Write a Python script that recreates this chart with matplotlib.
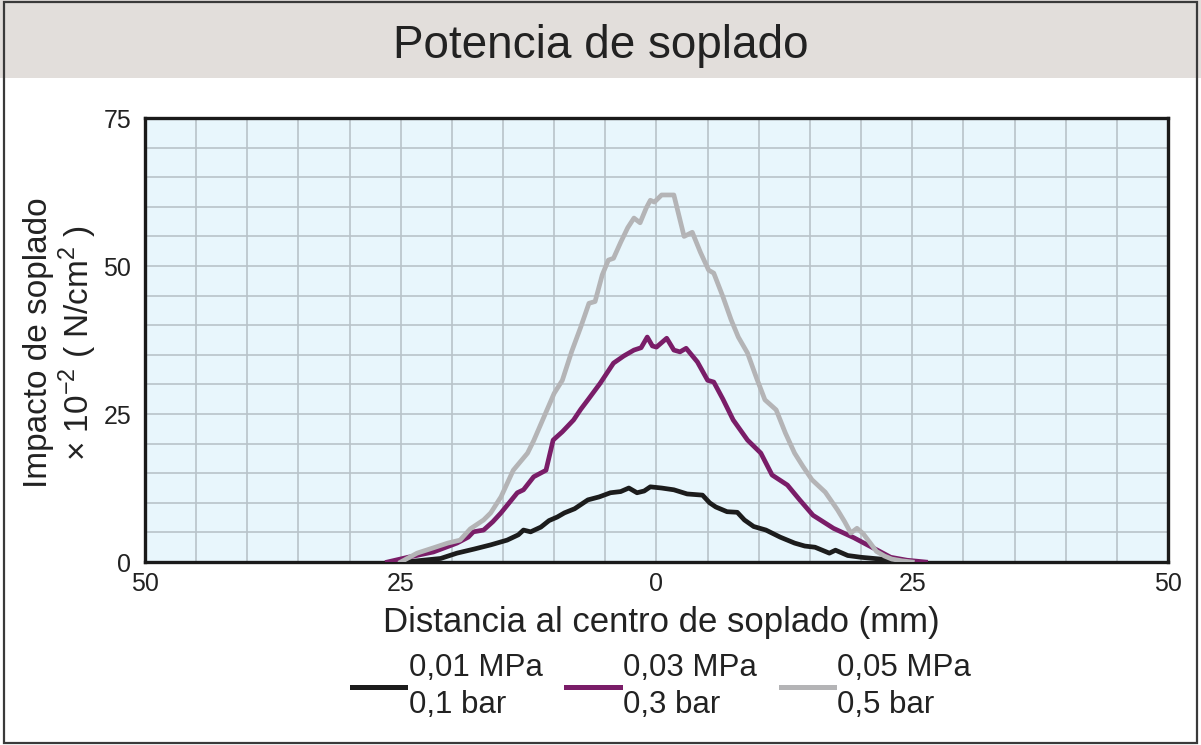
import matplotlib
matplotlib.use("Agg")
import matplotlib.pyplot as plt
from matplotlib.patches import Rectangle
from matplotlib.ticker import FuncFormatter

plt.rcParams['font.family'] = ['Liberation Sans', 'DejaVu Sans']

# datos (mm, impacto x10^-2 N/cm2)
x_01 = [-24.5, -23.4, -21.1, -19.5, -17.8, -16.2, -14.6, -13.5, -13.0, -12.3, -11.3, -10.5,
        -9.7, -9.0, -8.0, -6.7, -5.6, -4.5, -3.5, -2.7, -1.9, -1.2, -0.6, 0.5, 1.7, 3.0, 4.5,
        5.2, 5.8, 6.9, 7.9, 8.6, 9.5, 10.7, 12.1, 13.5, 14.5, 15.5, 16.9, 17.5, 18.7, 20.0,
        21.9, 23.5, 24.5]
y_01 = [0, 0.2, 0.6, 1.5, 2.2, 2.9, 3.7, 4.6, 5.4, 5.1, 5.9, 7.0,
        7.6, 8.3, 9.0, 10.5, 11.0, 11.7, 11.9, 12.5, 11.7, 12.0, 12.7, 12.5, 12.2, 11.5, 11.3,
        10.0, 9.3, 8.5, 8.4, 7.1, 6.0, 5.4, 4.2, 3.2, 2.7, 2.5, 1.5, 2.0, 1.1, 0.8,
        0.5, 0.2, 0]

x_03 = [-26.3, -24.3, -21.8, -19.5, -18.4, -17.9, -16.9, -16.0, -15.2, -13.6, -13.0, -12.0,
        -10.8, -10.1, -9.2, -8.1, -7.4, -6.7, -5.5, -4.2, -3.2, -2.2, -1.5, -0.9, -0.4, 0.0,
        1.0, 1.7, 2.3, 2.9, 4.0, 5.0, 5.6, 6.5, 7.5, 8.9, 10.2, 11.3, 12.8, 14.0, 15.3, 17.3,
        19.3, 20.5, 21.6, 22.9, 24.5, 26.3]
y_03 = [0, 0.8, 1.7, 3.2, 4.2, 5.1, 5.4, 6.8, 8.3, 11.7, 12.2, 14.4,
        15.5, 20.6, 22.0, 24.0, 25.8, 27.4, 30.2, 33.6, 34.8, 35.8, 36.2, 38.0, 36.5, 36.3,
        37.8, 35.8, 35.5, 36.1, 33.8, 30.7, 30.4, 27.5, 24.0, 20.6, 18.4, 14.7, 13.0, 10.5, 7.9, 5.7,
        4.1, 3.0, 2.0, 0.8, 0.3, 0]

x_05 = [-25.0, -23.4, -21.8, -20.4, -19.2, -18.2, -16.9, -16.2, -15.2, -14.0, -12.6, -12.0,
        -10.7, -10.0, -9.2, -8.3, -7.4, -6.6, -6.0, -5.3, -4.7, -4.2, -3.5, -2.8, -2.2, -1.6,
        -1.0, -0.6, -0.2, 0.5, 1.7, 2.2, 2.7, 3.5, 4.3, 5.1, 5.6, 6.5, 7.3, 8.0, 8.9, 9.8,
        10.6, 11.7, 12.6, 13.5, 14.3, 15.2, 16.5, 17.7, 18.4, 19.0, 19.6, 20.2, 20.9, 21.5,
        22.3, 23.0, 24.0, 25.0]
y_05 = [0, 1.5, 2.4, 3.2, 3.7, 5.6, 7.1, 8.3, 11.0, 15.5, 18.4, 20.5,
        25.7, 28.5, 30.7, 35.5, 39.7, 43.7, 44.0, 48.5, 51.0, 51.3, 54.0, 56.5, 58.1, 57.3,
        59.8, 61.1, 60.8, 62.0, 62.0, 58.5, 55.0, 55.7, 52.3, 49.3, 48.8, 44.8, 40.9, 38.0, 35.3, 31.0,
        27.4, 25.7, 21.8, 18.4, 16.2, 13.9, 11.8, 8.8, 6.8, 4.9, 5.7, 4.8, 3.2, 1.8,
        1.0, 0.5, 0.2, 0]

etiquetas = ['0,01 MPa\n0,1 bar', '0,03 MPa\n0,3 bar', '0,05 MPa\n0,5 bar']
colores = ['#1c1c1c', '#7a1d68', '#b4b4b6']

fig = plt.figure(figsize=(12.01, 7.45), dpi=100)

# banda del titulo y marco
fig.patches.append(Rectangle((0, 0.895), 1, 0.105, transform=fig.transFigure,
                             facecolor='#e2dedb', edgecolor='none', zorder=0))
fig.patches.append(Rectangle((0.003, 0.003), 0.994, 0.994, transform=fig.transFigure,
                             facecolor='none', edgecolor='#3a3a3a', lw=1.6, zorder=5))
fig.text(0.5, 0.938, 'Potencia de soplado', ha='center', va='center',
         fontsize=33, color='#222222')

ax = fig.add_axes([0.1207, 0.2456, 0.8518, 0.596])
ax.set_facecolor('#e8f6fc')

for xs, ys, c, lab in zip([x_01, x_03, x_05], [y_01, y_03, y_05], colores, etiquetas):
    ax.plot(xs, ys, color=c, lw=3.4, label=lab, solid_joinstyle='round', zorder=3)

ax.set_xlim(-50, 50)
ax.set_ylim(0, 75)
ax.set_xticks([-50, -25, 0, 25, 50])
ax.set_yticks([0, 25, 50, 75])
ax.set_xticks(range(-50, 51, 5), minor=True)
ax.set_yticks(range(0, 76, 5), minor=True)
ax.xaxis.set_major_formatter(FuncFormatter(lambda v, p: '%d' % abs(v)))
ax.grid(True, which='both', color='#b8c3c9', lw=1.2)
ax.set_axisbelow(True)
ax.tick_params(which='both', length=0)
ax.tick_params(axis='y', labelsize=18, pad=10, labelcolor='#222222')
ax.tick_params(axis='x', labelsize=18, pad=7, labelcolor='#222222')
for s in ax.spines.values():
    s.set_linewidth(2.4)
    s.set_color('#1a1a1a')

fig.text(0.551, 0.165, 'Distancia al centro de soplado (mm)', ha='center', va='center',
         fontsize=25, color='#222222')
fig.text(0.051, 0.54,
         'Impacto de soplado\n× 10$^{\\mathregular{-2}}$ ( N/cm$^{\\mathregular{2}}$ )',
         rotation=90, ha='center', va='center', multialignment='center',
         fontsize=24, linespacing=1.1, color='#222222')

leg = fig.legend(loc='center', bbox_to_anchor=(0.551, 0.079), ncol=3, frameon=False,
                 fontsize=22.5, handlelength=1.7, handletextpad=0.12, columnspacing=0.75)
for t in leg.get_texts():
    t.set_linespacing(1.3)
    t.set_color('#222222')
for h in leg.get_lines():
    h.set_linewidth(3.6)

fig.savefig('out.png', dpi=100)
